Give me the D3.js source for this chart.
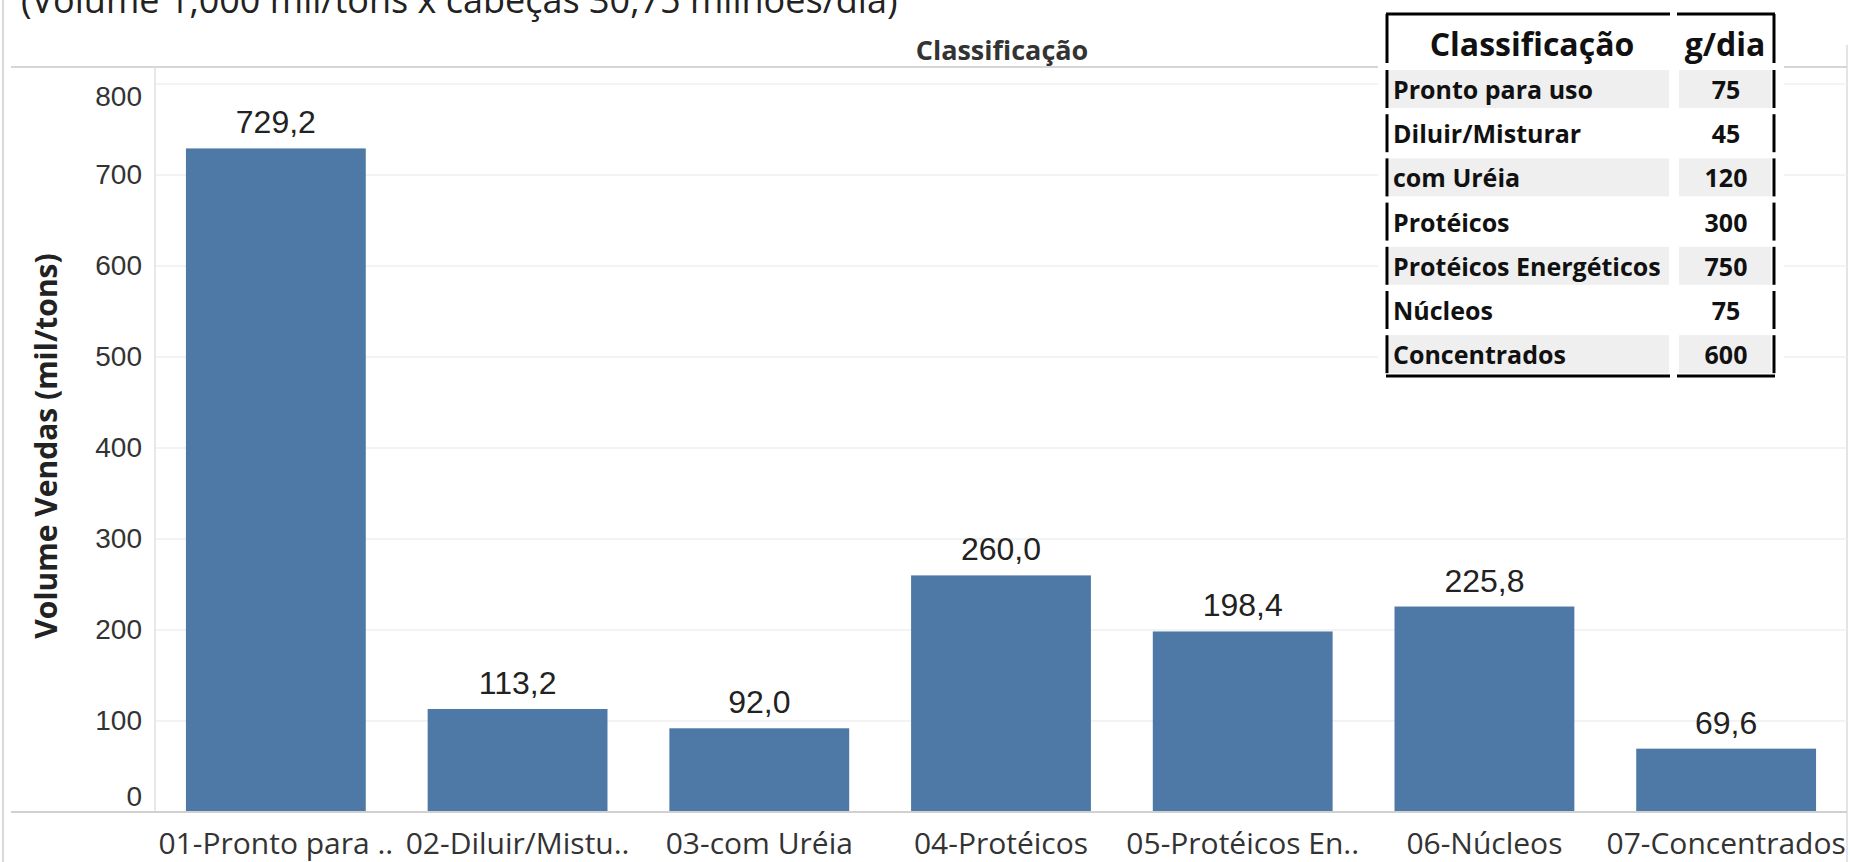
<!DOCTYPE html>
<html>
<head>
<meta charset="utf-8">
<script src="https://cdn.jsdelivr.net/npm/d3@7"></script>
<style>
  html, body { margin: 0; padding: 0; background: #fff; overflow: hidden; }
  svg { display: block; }
</style>
</head>
<body>
<script>
// ---- Data ----
const categories = ["01-Pronto para ..", "02-Diluir/Mistu..", "03-com Uréia", "04-Protéicos", "05-Protéicos En..", "06-Núcleos", "07-Concentrados"];
const volumes = [729.2, 113.2, 92.0, 260.0, 198.4, 225.8, 69.6];
const yTicks = [0, 100, 200, 300, 400, 500, 600, 700, 800];
const tableClasses = ["Pronto para uso", "Diluir/Misturar", "com Uréia", "Protéicos", "Protéicos Energéticos", "Núcleos", "Concentrados"];
const tableGdia = [75, 45, 120, 300, 750, 75, 600];
const titleText = "(Volume 1,000 mil/tons x cabeças 30,75 milhões/dia)";
const headerText = "Classificação";
const yAxisTitle = "Volume Vendas (mil/tons)";
const tableHeaders = ["Classificação", "g/dia"];

const W = 1850, H = 862;
const svg = d3.select("body").append("svg").attr("width", W).attr("height", H);

const fmt = v => d3.format(".1f")(v).replace(".", ",");

const x = d3.scaleBand().domain(categories).range([155, 1847]).paddingInner(0.256).paddingOuter(0.128);
const y = d3.scaleLinear().domain([0, 800]).range([812, 84]);

// Borders
svg.append("line").attr("x1", 3).attr("x2", 3).attr("y1", 0).attr("y2", H).attr("stroke", "#d9d9d9").attr("stroke-width", 2);
svg.append("line").attr("x1", 1847).attr("x2", 1847).attr("y1", 45).attr("y2", H).attr("stroke", "#e4e4e4").attr("stroke-width", 2);

// Title (partially cut off at the top, as in the source image)
svg.append("text").attr("x", 21).attr("y", 13).attr("font-family", "Open Sans").attr("font-size", 36)
  .attr("fill", "#222").text(titleText);

// Header
svg.append("text").attr("x", 1002).attr("y", 60).attr("text-anchor", "middle").attr("font-family", "Open Sans")
  .attr("font-weight", "bold").attr("font-size", 27).attr("fill", "#333").text(headerText);
svg.append("line").attr("x1", 11).attr("x2", 1847).attr("y1", 67).attr("y2", 67).attr("stroke", "#d6d6d6").attr("stroke-width", 2);

// Grid
svg.append("g").selectAll("line").data(yTicks.filter(d => d > 0)).join("line")
  .attr("x1", 155).attr("x2", 1847).attr("y1", d => y(d)).attr("y2", d => y(d))
  .attr("stroke", "#efefef").attr("stroke-width", 1.5);

// Y axis
const yAxis = svg.append("g").attr("transform", "translate(155,0)")
  .call(d3.axisLeft(y).tickValues(yTicks).tickSize(0).tickPadding(13));
yAxis.select(".domain").remove();
yAxis.selectAll("text").attr("font-family", "Liberation Sans").attr("font-size", 28).attr("fill", "#333")
  .attr("dy", d => d === 0 ? "-0.25em" : (d === 800 ? "0.75em" : "0.32em"));
svg.append("line").attr("x1", 155).attr("x2", 155).attr("y1", 67).attr("y2", 812).attr("stroke", "#e0e0e0").attr("stroke-width", 1.5);

// Y title
svg.append("text").attr("transform", "translate(57,446) rotate(-90)").attr("text-anchor", "middle")
  .attr("font-family", "Open Sans").attr("font-weight", "bold").attr("font-size", 30).attr("fill", "#222").text(yAxisTitle);

// Bars
svg.append("g").selectAll("rect").data(volumes).join("rect")
  .attr("x", (d, i) => x(categories[i])).attr("width", x.bandwidth())
  .attr("y", d => y(d)).attr("height", d => y(0) - y(d)).attr("fill", "#4e79a7");

// Value labels
svg.append("g").selectAll("text").data(volumes).join("text")
  .attr("x", (d, i) => x(categories[i]) + x.bandwidth() / 2).attr("y", d => y(d) - 15)
  .attr("text-anchor", "middle").attr("font-family", "Liberation Sans").attr("font-size", 32).attr("fill", "#222")
  .text(d => fmt(d));

// X axis line
svg.append("line").attr("x1", 11).attr("x2", 1847).attr("y1", 812).attr("y2", 812).attr("stroke", "#d0d0d0").attr("stroke-width", 2);

// X axis labels
const xAxis = svg.append("g").attr("transform", "translate(0,812)").call(d3.axisBottom(x).tickSize(0).tickPadding(21));
xAxis.select(".domain").remove();
xAxis.selectAll("text").attr("font-family", "Open Sans").attr("font-size", 30).attr("fill", "#333").attr("dy", "0.71em");

// Table overlay
const tbl = svg.append("g");
const rowTop = i => 70 + i * 44.2;
const rowH = 38;
tbl.append("rect").attr("x", 1378).attr("y", 6).attr("width", 406).attr("height", 374).attr("fill", "#fff");
tbl.selectAll("rect.f1").data(tableClasses).join("rect").attr("class", "f1")
  .attr("x", 1389).attr("y", (d, i) => rowTop(i)).attr("width", 280).attr("height", rowH)
  .attr("fill", (d, i) => i % 2 === 0 ? "#efefef" : "#fff");
tbl.selectAll("rect.f2").data(tableGdia).join("rect").attr("class", "f2")
  .attr("x", 1679).attr("y", (d, i) => rowTop(i)).attr("width", 92).attr("height", rowH)
  .attr("fill", (d, i) => i % 2 === 0 ? "#efefef" : "#fff");
[14, 376].forEach(yy => {
  tbl.append("line").attr("x1", 1386).attr("x2", 1670).attr("y1", yy).attr("y2", yy).attr("stroke", "#000").attr("stroke-width", 3);
  tbl.append("line").attr("x1", 1677).attr("x2", 1775).attr("y1", yy).attr("y2", yy).attr("stroke", "#000").attr("stroke-width", 3);
});
const segs = [[14, 63]].concat(tableClasses.map((d, i) => [rowTop(i), rowTop(i) + rowH]));
segs.forEach(s => {
  tbl.append("line").attr("x1", 1387).attr("x2", 1387).attr("y1", s[0]).attr("y2", s[1]).attr("stroke", "#000").attr("stroke-width", 3);
  tbl.append("line").attr("x1", 1774).attr("x2", 1774).attr("y1", s[0]).attr("y2", s[1]).attr("stroke", "#000").attr("stroke-width", 3);
});
tbl.append("text").attr("x", 1532).attr("y", 56).attr("text-anchor", "middle").attr("font-family", "Open Sans")
  .attr("font-weight", "bold").attr("font-size", 32).attr("fill", "#111").text(tableHeaders[0]);
tbl.append("text").attr("x", 1725).attr("y", 56).attr("text-anchor", "middle").attr("font-family", "Open Sans")
  .attr("font-weight", "bold").attr("font-size", 32).attr("fill", "#111").text(tableHeaders[1]);
tbl.selectAll("text.c").data(tableClasses).join("text").attr("class", "c")
  .attr("x", 1393).attr("y", (d, i) => rowTop(i) + 29).attr("font-family", "Open Sans").attr("font-weight", "bold")
  .attr("font-size", 25).attr("fill", "#111").text(d => d);
tbl.selectAll("text.v").data(tableGdia).join("text").attr("class", "v")
  .attr("x", 1726).attr("y", (d, i) => rowTop(i) + 29).attr("text-anchor", "middle").attr("font-family", "Open Sans")
  .attr("font-weight", "bold").attr("font-size", 25).attr("fill", "#111").text(d => d);
</script>
</body>
</html>
